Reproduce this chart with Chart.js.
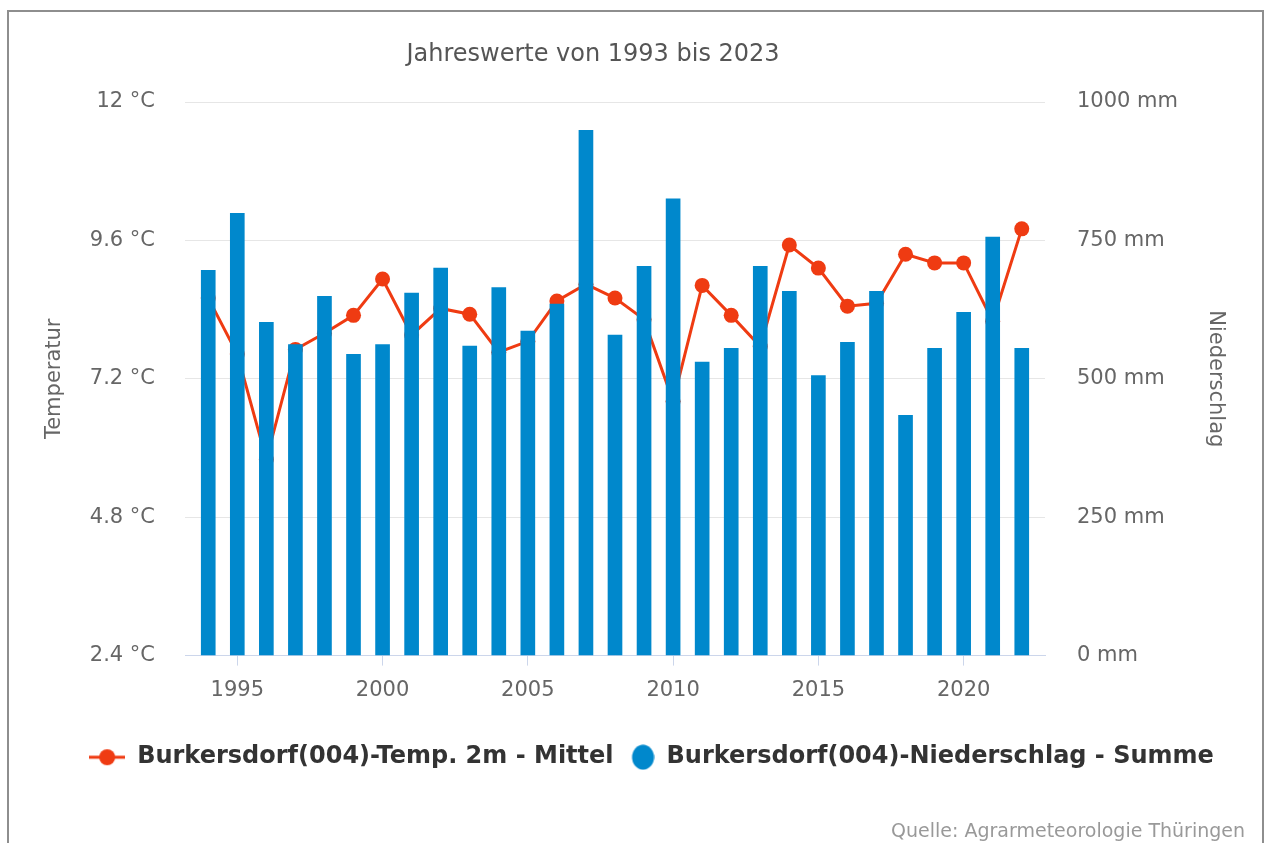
<!DOCTYPE html>
<html>
<head>
<meta charset="utf-8">
<script src="https://cdn.jsdelivr.net/npm/chart.js@4.4.1/dist/chart.umd.min.js"></script>
<style>
    html, body { margin: 0; padding: 0; background: #fff; }
    #wrap { position: relative; width: 1265px; height: 843px; overflow: hidden; }
    #frame { position: absolute; left: 7px; top: 10px; width: 1253px; height: 900px; border: 2px solid #8e8e8e; pointer-events: none; }
    canvas { position: absolute; left: 0; top: 0; }
</style>
</head>
<body>
<div id="wrap">
    <canvas id="myChartClimate" width="1265" height="843"></canvas>
    <div id="frame"></div>
</div>
<script>
const years = [1994, 1995, 1996, 1997, 1998, 1999, 2000, 2001, 2002, 2003,
               2004, 2005, 2006, 2007, 2008, 2009, 2010, 2011, 2012, 2013,
               2014, 2015, 2016, 2017, 2018, 2019, 2020, 2021, 2022];
// Temp. 2m - Mittel (°C)
const tempMean = [8.60, 7.63, 5.80, 7.71, 7.99, 8.30, 8.93, 7.96, 8.42, 8.32,
                  7.66, 7.85, 8.55, 8.84, 8.60, 8.23, 6.81, 8.82, 8.30, 7.76,
                  9.52, 9.12, 8.46, 8.51, 9.36, 9.21, 9.21, 8.20, 9.80];
// Niederschlag - Summe (mm)
const precipSum = [696, 799, 602, 562, 649, 544, 562, 655, 700, 559,
                   665, 586, 635, 949, 579, 703, 825, 530, 555, 703,
                   658, 506, 566, 658, 434, 555, 620, 756, 555];

const yearTicks = [1995, 2000, 2005, 2010, 2015, 2020];
const tempTicks = [2.4, 4.8, 7.2, 9.6, 12];
const precipTicks = [0, 250, 500, 750, 1000];

const titleText = 'Jahreswerte von 1993 bis 2023';
const sourceText = 'Quelle: Agrarmeteorologie Thüringen';
const tempLabel = 'Burkersdorf(004)-Temp. 2m - Mittel';
const precipLabel = 'Burkersdorf(004)-Niederschlag - Summe';

const red = '#ef3b12';
const blue = '#0088cc';

Chart.defaults.font.family = '"DejaVu Sans", sans-serif';

// legend markers
const lineMarker = document.createElement('canvas');
lineMarker.width = 36;
lineMarker.height = 20;
(function () {
    const c = lineMarker.getContext('2d');
    c.strokeStyle = red;
    c.lineWidth = 3;
    c.beginPath();
    c.moveTo(0, 10);
    c.lineTo(36, 10);
    c.stroke();
    c.fillStyle = red;
    c.beginPath();
    c.arc(18, 10, 8, 0, Math.PI * 2);
    c.fill();
})();
const barMarker = document.createElement('canvas');
barMarker.width = 36;
barMarker.height = 26;
(function () {
    const c = barMarker.getContext('2d');
    c.fillStyle = blue;
    c.beginPath();
    c.ellipse(24.5, 13, 11, 12.5, 0, 0, Math.PI * 2);
    c.fill();
})();

const chartTitle = {
    id: 'chartTitle',
    afterDraw(chart) {
        const ctx = chart.ctx;
        ctx.save();
        ctx.font = '24px "DejaVu Sans"';
        ctx.fillStyle = '#555';
        ctx.textAlign = 'center';
        ctx.textBaseline = 'middle';
        ctx.fillText(titleText, 593, 55);
        ctx.restore();
    }
};

const myChartClimate = new Chart(
    document.getElementById('myChartClimate'),
    {
        type: 'bar',
        data: {
            datasets: [
                {
                    type: 'line',
                    label: tempLabel,
                    data: years.map((y, i) => ({x: y, y: tempMean[i]})),
                    yAxisID: 'yTemp',
                    borderColor: red,
                    backgroundColor: red,
                    borderWidth: 3,
                    pointRadius: 7.5,
                    pointBorderWidth: 0,
                    pointBackgroundColor: red,
                    tension: 0,
                    order: 1,
                },
                {
                    type: 'bar',
                    label: precipLabel,
                    data: years.map((y, i) => ({x: y, y: precipSum[i]})),
                    yAxisID: 'yRain',
                    backgroundColor: blue,
                    borderWidth: 0,
                    barThickness: 14,
                    order: 0,
                },
            ]
        },
        options: {
            responsive: false,
            animation: false,
            layout: {
                padding: {top: 102, left: 58, right: 20, bottom: 0}
            },
            plugins: {
                tooltip: {enabled: false},
                legend: {
                    display: true,
                    position: 'bottom',
                    title: {
                        display: true,
                        text: '',
                        padding: {top: 5, bottom: 6}
                    },
                    labels: {
                        usePointStyle: true,
                        pointStyleWidth: 36,
                        padding: 5,
                        color: '#333',
                        font: {size: 24, weight: 'bold'},
                        generateLabels: () => [
                            {text: tempLabel, pointStyle: lineMarker, fillStyle: red, strokeStyle: red,
                             lineWidth: 0, hidden: false, datasetIndex: 0, fontColor: '#333'},
                            {text: precipLabel, pointStyle: barMarker, fillStyle: blue, strokeStyle: blue,
                             lineWidth: 0, hidden: false, datasetIndex: 1, fontColor: '#333'},
                        ]
                    }
                },
                subtitle: {
                    display: true,
                    text: sourceText,
                    position: 'bottom',
                    align: 'end',
                    color: '#999',
                    font: {size: 19, weight: 'normal'},
                    padding: {top: 41, bottom: 0}
                }
            },
            scales: {
                x: {
                    type: 'linear',
                    position: 'bottom',
                    min: 1993.2,
                    max: 2022.8,
                    offset: false,
                    afterBuildTicks: (scale) => { scale.ticks = yearTicks.map(v => ({value: v})); },
                    ticks: {
                        color: '#666',
                        font: {size: 21},
                        padding: 12,
                        maxRotation: 0,
                        callback: (v) => String(v)
                    },
                    grid: {
                        offset: false,
                        drawOnChartArea: false,
                        drawTicks: true,
                        tickLength: 10,
                        color: '#ccd6eb'
                    },
                    border: {display: true, color: '#ccd6eb'}
                },
                yTemp: {
                    position: 'left',
                    min: 2.4,
                    max: 12,
                    afterBuildTicks: (scale) => { scale.ticks = tempTicks.map(v => ({value: v})); },
                    afterFit: (scale) => { scale.width = 127; },
                    ticks: {
                        color: '#666',
                        font: {size: 21},
                        padding: 30,
                        callback: (v) => v + ' °C'
                    },
                    grid: {color: '#e6e6e6', drawTicks: false},
                    border: {display: false},
                    title: {
                        display: true,
                        text: 'Temperatur',
                        color: '#666',
                        font: {size: 21},
                        padding: {top: -15.6}
                    }
                },
                yRain: {
                    position: 'right',
                    min: 0,
                    max: 1000,
                    afterBuildTicks: (scale) => { scale.ticks = precipTicks.map(v => ({value: v})); },
                    afterFit: (scale) => { scale.width = 200; },
                    ticks: {
                        color: '#666',
                        font: {size: 21},
                        padding: 32,
                        callback: (v) => v + ' mm'
                    },
                    grid: {drawOnChartArea: false, drawTicks: false},
                    border: {display: false},
                    title: {
                        display: true,
                        text: 'Niederschlag',
                        color: '#666',
                        font: {size: 21},
                        padding: {top: 17}
                    }
                }
            }
        },
        plugins: [chartTitle]
    }
);
</script>
</body>
</html>
